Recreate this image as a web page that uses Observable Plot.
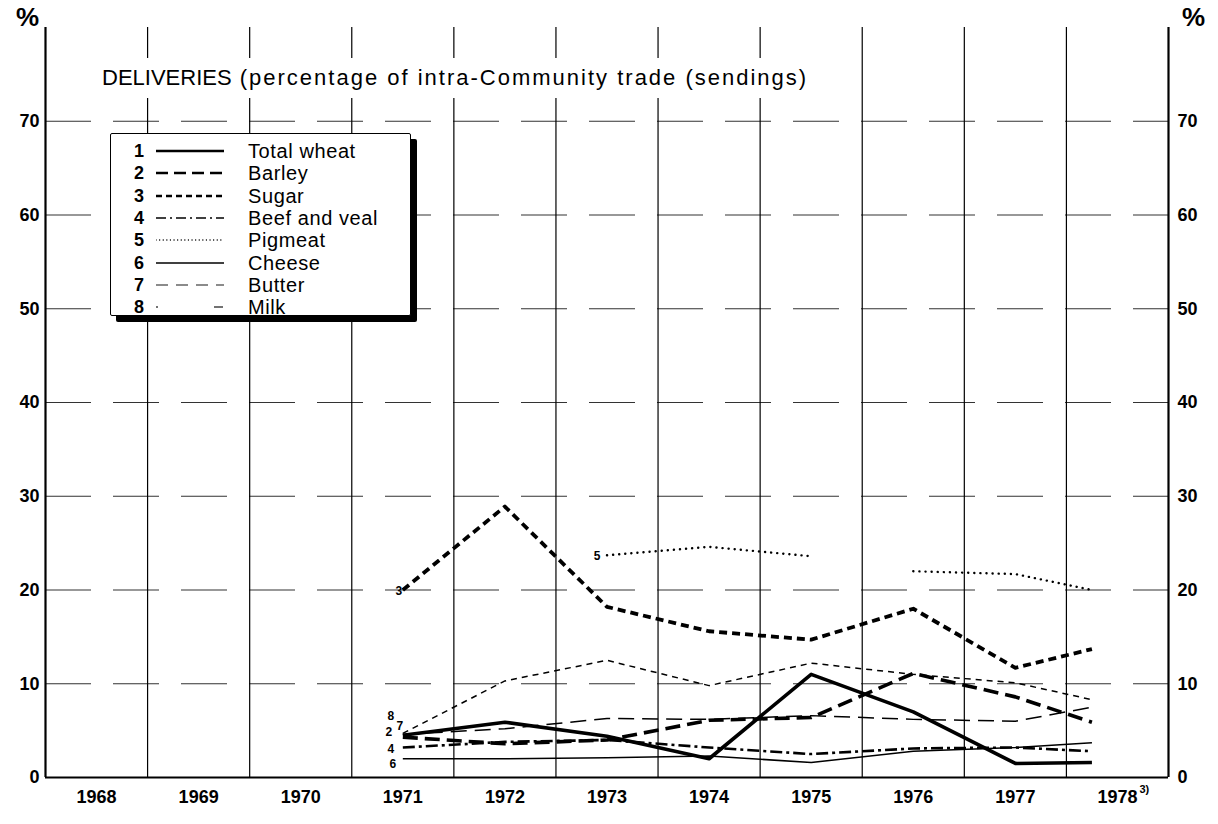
<!DOCTYPE html>
<html>
<head>
<meta charset="utf-8">
<script src="https://cdn.jsdelivr.net/npm/d3@7"></script>
<script src="https://cdn.jsdelivr.net/npm/@observablehq/plot@0.6"></script>
<style>
  body { margin: 0; background: #fff; }
  #wrap { position: relative; width: 1218px; height: 824px; overflow: hidden; font-family: "Liberation Sans", Arial, sans-serif; color: #000; }
  #chart svg { display: block; }
  .pct { position: absolute; top: 2px; font: bold 26px "Liberation Sans", sans-serif; }
  #title { position: absolute; left: 96px; top: 58px; height: 40px; line-height: 40px; background: #fff; padding: 0 6px; white-space: nowrap; }
  #title .main { font-size: 22px; letter-spacing: 0px; }
  #title .sub { font-size: 22px; letter-spacing: 2px; }
  #legend { position: absolute; left: 110px; top: 133px; width: 299px; height: 181px; border: 1.5px solid #000; box-shadow: 6px 6px 0 #000; background: #fff; border-radius: 2px; }
  .lrow { position: absolute; left: 0; width: 100%; height: 22px; }
  .lnum { position: absolute; left: 18px; width: 20px; text-align: center; font: bold 18px/22px "Liberation Sans", sans-serif; }
  .lsvg { position: absolute; left: 45px; top: 0; }
  .llab { position: absolute; left: 137px; font: 20px/22px "Liberation Sans", sans-serif; letter-spacing: 0.6px; white-space: nowrap; }
</style>
</head>
<body>
<div id="wrap">
  <div id="chart"></div>
  <div class="pct" style="left:16px;"></div>
  <div class="pct" style="left:1182px;"></div>
  <div id="title"></div>
  <div id="legend"></div>
</div>
<script>
// ---------- data ----------
const years = [1971, 1972, 1973, 1974, 1975, 1976, 1977, 1978];
const position1978 = 1977.75; // 1978 (part-year, note 3) plotted before mid-year
const seriesNames = ["Total wheat", "Barley", "Sugar", "Beef and veal", "Pigmeat", "Cheese", "Butter", "Milk"];
const seriesNumbers = ["1", "2", "3", "4", "5", "6", "7", "8"];

const totalWheat = [4.5, 5.9, 4.4, 2.0, 11.0, 7.0, 1.5, 1.6];
const barley     = [4.3, 3.6, 4.0, 6.1, 6.4, 11.1, 8.6, 5.9];
const sugar      = [20.0, 28.9, 18.2, 15.6, 14.7, 18.0, 11.7, 13.7];
const beefVeal   = [3.2, 3.8, 4.0, 3.2, 2.5, 3.1, 3.2, 2.8];
const pigmeat    = [null, null, 23.7, 24.6, 23.6, 22.0, 21.7, 20.0];
const pigmeatGapAfter = 1975; // line interrupted between 1975 and 1976
const cheese     = [2.0, 2.0, 2.1, 2.3, 1.6, 2.8, 3.2, 3.7];
const butter     = [4.6, 5.2, 6.3, 6.2, 6.6, 6.2, 6.0, 7.5];
const milk       = [4.7, 10.3, 12.5, 9.8, 12.2, 11.0, 10.1, 8.3];

const yTicks = [0, 10, 20, 30, 40, 50, 60, 70];
const xTickYears = [1968, 1969, 1970, 1971, 1972, 1973, 1974, 1975, 1976, 1977, 1978];
const xTickLabels = ["1968", "1969", "1970", "1971", "1972", "1973", "1974", "1975", "1976", "1977", "1978"];
const footnoteMark = "3)";
const titleMain = "DELIVERIES";
const titleSub = "(percentage of intra-Community trade (sendings)";
const percentSign = "%";

// ---------- build table ----------
const valuesBySeries = {
  "Total wheat": totalWheat, "Barley": barley, "Sugar": sugar, "Beef and veal": beefVeal,
  "Pigmeat": pigmeat, "Cheese": cheese, "Butter": butter, "Milk": milk
};
const rows = [];
seriesNames.forEach((name, i) => {
  valuesBySeries[name].forEach((v, j) => {
    rows.push({
      series: name, num: seriesNumbers[i], year: years[j],
      x: years[j] === 1978 ? position1978 : years[j],
      value: v,
      seg: (name === "Pigmeat" && years[j] > pigmeatGapAfter) ? 1 : 0
    });
  });
});

// ---------- styles ----------
const styles = {
  "Total wheat":   { w: 3.6, dash: null },
  "Barley":        { w: 3.6, dash: "15,7" },
  "Sugar":         { w: 3.8, dash: "8,5" },
  "Beef and veal": { w: 2.6, dash: "12,4,3,4" },
  "Pigmeat":       { w: 2.4, dash: "0.1,6", cap: "round" },
  "Cheese":        { w: 1.6, dash: null },
  "Butter":        { w: 1.5, dash: "16,8" },
  "Milk":          { w: 1.5, dash: "6,5" }
};
const legendStyles = {
  "Total wheat":   { w: 2.4, dash: null, c: "#000" },
  "Barley":        { w: 2.6, dash: "12,6", c: "#000" },
  "Sugar":         { w: 2.6, dash: "6,4", c: "#000" },
  "Beef and veal": { w: 1.4, dash: "10,4,2,4", c: "#000" },
  "Pigmeat":       { w: 1.3, dash: "0.1,3.5", cap: "round", c: "#000" },
  "Cheese":        { w: 1.6, dash: null, c: "#000" },
  "Butter":        { w: 1.3, dash: "12,8", c: "#666" },
  "Milk":          { w: 1.3, dash: "2,56,9,20", c: "#444" }
};
const startLabels = [
  { series: "Sugar", dx: -4, dy: 1 },
  { series: "Pigmeat", dx: -10, dy: 1 },
  { series: "Milk", dx: -12, dy: -17 },
  { series: "Barley", dx: -14, dy: -5 },
  { series: "Butter", dx: -3, dy: -8 },
  { series: "Beef and veal", dx: -12, dy: 2 },
  { series: "Cheese", dx: -10, dy: 5 }
];

// ---------- marks ----------
const gridX = xTickYears.slice(0, -1).map(y => y + 0.5);
const marks = [
  Plot.ruleY(yTicks.filter(d => d > 0), { stroke: "#333", strokeWidth: 1.1, strokeDasharray: "46,22" }),
  Plot.ruleX(gridX, { y1: 0, y2: 80, stroke: "#000", strokeWidth: 1.2 }),
  Plot.ruleX([xTickYears[0] - 0.5, xTickYears[xTickYears.length - 1] + 0.5], { y1: 0, y2: 80, stroke: "#000", strokeWidth: 2.2 }),
  Plot.ruleY([0], { stroke: "#000", strokeWidth: 2.2 })
];
seriesNames.forEach(name => {
  const s = styles[name];
  marks.push(Plot.line(rows.filter(r => r.series === name), {
    x: "x", y: "value", z: "seg", stroke: "#000",
    strokeWidth: s.w, strokeDasharray: s.dash || undefined,
    strokeLinecap: s.cap || "butt", strokeLinejoin: "round"
  }));
});
startLabels.forEach(l => {
  const first = rows.find(r => r.series === l.series && r.value != null);
  marks.push(Plot.text([first], {
    x: "x", y: "value", text: "num", dx: l.dx, dy: l.dy,
    fontSize: 12, fontWeight: "bold", fill: "#000"
  }));
});
marks.push(
  Plot.axisY(yTicks, { anchor: "left", tickSize: 0, tickPadding: 6, label: null, fontSize: 18 }),
  Plot.axisY(yTicks, { anchor: "right", tickSize: 0, tickPadding: 9, label: null, fontSize: 18 }),
  Plot.axisX(xTickYears, { anchor: "bottom", tickSize: 0, tickPadding: 13, label: null, fontSize: 18,
    tickFormat: d => xTickLabels[xTickYears.indexOf(d)] }),
  Plot.text([1978], { x: d => d, frameAnchor: "bottom", text: () => footnoteMark, dx: 22, dy: 15,
    textAnchor: "start", fontSize: 11, fontWeight: "bold" })
);

const chart = Plot.plot({
  width: 1218, height: 824,
  marginLeft: 45, marginRight: 50, marginTop: 27, marginBottom: 47,
  x: { domain: [1967.5, 1978.5], axis: null },
  y: { domain: [0, 80], axis: null },
  style: { fontFamily: "'Liberation Sans', Arial, sans-serif", fontWeight: "bold", color: "#000", background: "#fff" },
  marks
});
document.getElementById("chart").appendChild(chart);

// ---------- title ----------
document.querySelectorAll(".pct").forEach(el => el.textContent = percentSign);
const title = document.getElementById("title");
const tm = document.createElement("span"); tm.className = "main"; tm.textContent = titleMain;
const ts = document.createElement("span"); ts.className = "sub"; ts.textContent = " " + titleSub;
title.appendChild(tm); title.appendChild(ts);

// ---------- legend ----------
const legend = document.getElementById("legend");
seriesNames.forEach((name, i) => {
  const st = legendStyles[name];
  const row = document.createElement("div");
  row.className = "lrow";
  row.style.top = (6 + i * 22.3) + "px";
  const num = document.createElement("div"); num.className = "lnum"; num.textContent = seriesNumbers[i];
  const svg = d3.create("svg").attr("class", "lsvg").attr("width", 70).attr("height", 22);
  svg.append("line").attr("x1", 0).attr("x2", 68).attr("y1", 11).attr("y2", 11)
    .attr("stroke", st.c).attr("stroke-width", st.w)
    .attr("stroke-dasharray", st.dash)
    .attr("stroke-linecap", st.cap || "butt");
  const lab = document.createElement("div"); lab.className = "llab"; lab.textContent = name;
  row.appendChild(num); row.appendChild(svg.node()); row.appendChild(lab);
  legend.appendChild(row);
});
</script>
</body>
</html>
